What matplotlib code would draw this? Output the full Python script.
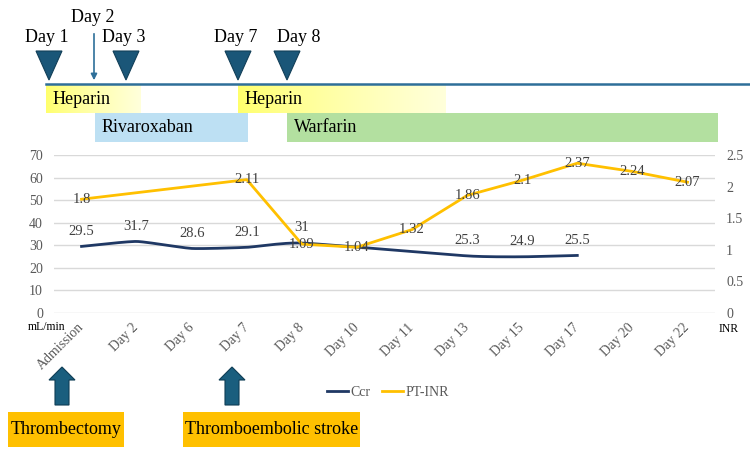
import numpy as np
import matplotlib
matplotlib.use("Agg")
import matplotlib.pyplot as plt
from matplotlib.patches import Polygon, Rectangle, FancyArrow
from matplotlib.lines import Line2D

plt.rcParams['font.family'] = ['Liberation Serif', 'DejaVu Serif']

# data
days = ["Admission", "Day 2", "Day 6", "Day 7", "Day 8", "Day 10", "Day 11",
        "Day 13", "Day 15", "Day 17", "Day 20", "Day 22"]
ccr = [29.5, 31.7, 28.6, 29.1, 31, np.nan, np.nan, 25.3, 24.9, 25.5, np.nan, np.nan]
inr = [1.8, np.nan, np.nan, 2.11, 1.09, 1.04, 1.32, 1.86, 2.1, 2.37, 2.24, 2.07]

# timeline (top) and events (bottom), in pixel coords of the figure
tl_days = ["Day 1", "Day 3", "Day 7", "Day 8"]
tl_x = [49, 126, 238, 287]
drugs = ["Heparin", "Rivaroxaban", "Heparin", "Warfarin"]
events = ["Thrombectomy", "Thromboembolic stroke"]

W, H = 750, 451
fig = plt.figure(figsize=(7.5, 4.51), dpi=100)


def smooth(xs, ys, n=20):
    # catmull-rom style curve through the points, like excel's smoothed line
    xs = np.asarray(xs, float)
    ys = np.asarray(ys, float)
    px = np.concatenate([[2 * xs[0] - xs[1]], xs, [2 * xs[-1] - xs[-2]]])
    py = np.concatenate([[2 * ys[0] - ys[1]], ys, [2 * ys[-1] - ys[-2]]])
    ox, oy = [], []
    t = np.linspace(0, 1, n)
    for k in range(1, len(px) - 2):
        for p, out in ((px, ox), (py, oy)):
            p0, p1, p2, p3 = p[k - 1], p[k], p[k + 1], p[k + 2]
            m1 = (p2 - p0) / 2 * 0.5
            m2 = (p3 - p1) / 2 * 0.5
            h00 = 2 * t**3 - 3 * t**2 + 1
            h10 = t**3 - 2 * t**2 + t
            h01 = -2 * t**3 + 3 * t**2
            h11 = t**3 - t**2
            out.extend(h00 * p1 + h10 * m1 + h01 * p2 + h11 * m2)
    return ox, oy


# main chart
x0, x1, ytop, ybot = 54, 715, 155, 313
ax = fig.add_axes([x0 / W, 1 - ybot / H, (x1 - x0) / W, (ybot - ytop) / H])
ax2 = ax.twinx()
x = np.arange(len(days))
ccr = np.array(ccr)
inr = np.array(inr)
m1 = ~np.isnan(ccr)
m2 = ~np.isnan(inr)
sx, sy = smooth(x[m1], ccr[m1])
ax.plot(sx, sy, color="#1f3864", lw=2, zorder=3)
ax2.plot(x[m2], inr[m2], color="#ffc000", lw=2, zorder=3)

ax.set_xlim(-0.5, len(days) - 0.5)
ax.set_ylim(0, 70)
ax2.set_ylim(0, 2.5)
ax.set_yticks(range(0, 71, 10))
ax2.set_yticks(np.arange(0, 2.51, 0.5))
ax2.set_yticklabels(["0", "0.5", "1", "1.5", "2", "2.5"])
ax.grid(axis="y", color="#d9d9d9", lw=1)
ax.set_axisbelow(True)
for a in (ax, ax2):
    for s in a.spines.values():
        s.set_visible(False)
    a.tick_params(length=0, labelsize=10, labelcolor="#595959", pad=8)
ax.set_xticks(x)
ax.set_xticklabels(days, rotation=45, ha="right", va="center",
                   rotation_mode="anchor", fontsize=10, color="#595959")
ax.tick_params(axis="x", pad=9)

for i in x:
    if m1[i]:
        ax.annotate(f"{ccr[i]:g}", (i, ccr[i]), xytext=(0, 11), textcoords="offset points",
                    ha="center", va="center", fontsize=10.5, color="#404040", zorder=5)
    if m2[i]:
        ax2.annotate(f"{inr[i]:g}", (i, inr[i]), xytext=(0, 0), textcoords="offset points",
                     ha="center", va="center", fontsize=10.5, color="#404040", zorder=5)

leg = fig.legend([Line2D([], [], color="#1f3864", lw=2), Line2D([], [], color="#ffc000", lw=2)],
                 ["Ccr", "PT-INR"], loc="center", bbox_to_anchor=(388 / W, 1 - 392 / H),
                 ncol=2, frameon=False, fontsize=10, handlelength=1.5, handletextpad=0.2,
                 columnspacing=0.8)
for t in leg.get_texts():
    t.set_color("#595959")

# overlay in pixel coordinates
ov = fig.add_axes([0, 0, 1, 1], facecolor="none")
ov.set_xlim(0, W)
ov.set_ylim(H, 0)
ov.axis("off")

ov.text(47, 327, "mL/min", ha="center", va="center", fontsize=8.5)
ov.text(729, 329, "INR", ha="center", va="center", fontsize=8.5)

# timeline line
ov.plot([46, 750], [83.5, 83.5], color="#2e6f99", lw=1.8)
for lab, tx in zip(tl_days, tl_x):
    ov.add_patch(Polygon([[tx - 13, 51], [tx + 13, 51], [tx, 80]], closed=True,
                         facecolor="#1a5678", edgecolor="#123f58", lw=0.8))
    ov.text(tx - 2 if lab != "Day 8" else tx + 12, 37, lab, ha="center", va="center", fontsize=13)
ov.text(93, 18, "Day 2", ha="center", va="center", fontsize=13)
ov.annotate("", xy=(94, 83), xytext=(94, 31),
            arrowprops=dict(arrowstyle="-|>", color="#2e6f99", lw=1.2, mutation_scale=9))


def grad_bar(xa, xb, ya, yb):
    n = 256
    a = np.linspace(0, 1, n) ** 0.8
    c0 = np.array([1.0, 1.0, 0.42])
    c1 = np.array([1.0, 1.0, 0.86])
    rgb = c0[None, :] * (1 - a[:, None]) + c1[None, :] * a[:, None]
    ov.imshow(rgb[None, :, :], extent=(xa, xb, yb, ya), aspect="auto", zorder=1)


grad_bar(46, 141, 85, 113)
grad_bar(238, 446, 85, 113)
ov.add_patch(Rectangle((95, 113), 153, 29, facecolor="#bde0f3", edgecolor="none", zorder=1))
ov.add_patch(Rectangle((287, 113), 431, 29, facecolor="#b3e0a0", edgecolor="none", zorder=1))
ov.set_xlim(0, W)
ov.set_ylim(H, 0)
for lab, bx, by in zip(drugs, [53, 102, 245, 294], [100, 128, 100, 128]):
    ov.text(bx, by, lab, ha="left", va="center", fontsize=13, zorder=3)

# bottom events
for ex, (bx, bw), lab in zip([62, 232], [(8, 116), (183, 177)], events):
    ov.add_patch(FancyArrow(ex, 405, 0, -38, width=14, head_width=26, head_length=13,
                            length_includes_head=True, facecolor="#1a5e7e",
                            edgecolor="#0f3d55", lw=0.8))
    ov.add_patch(Rectangle((bx, 412), bw, 35, facecolor="#ffc000", edgecolor="none"))
    ov.text(bx + bw / 2, 430, lab, ha="center", va="center", fontsize=13)

fig.savefig("out.png", dpi=100)
